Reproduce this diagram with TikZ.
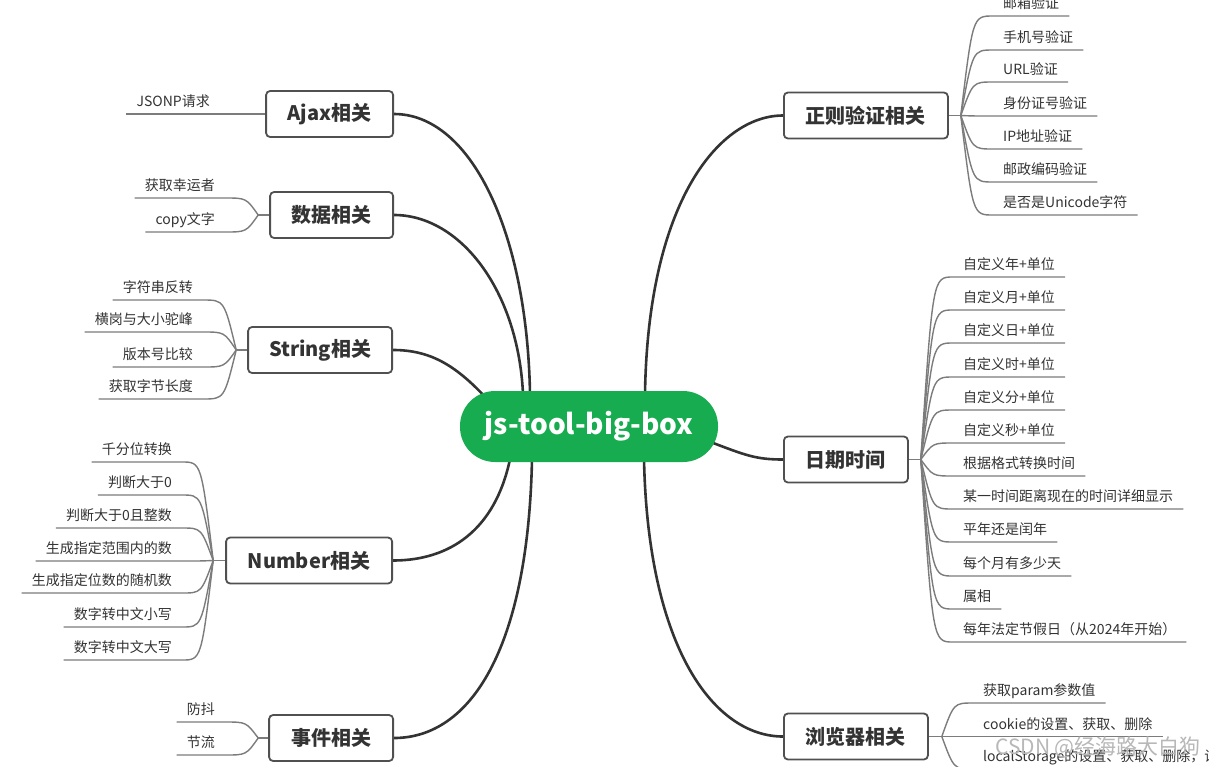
\documentclass[tikz,border=0pt]{standalone}
\usepackage{fontspec}
\setmainfont{Noto Sans CJK SC}
\usetikzlibrary{backgrounds}
\definecolor{rootgreen}{HTML}{17AC50}
\definecolor{inkdark}{HTML}{333333}
\definecolor{boxline}{HTML}{505050}
\definecolor{twiggray}{HTML}{7C7C7C}
\tikzset{
  root/.style={fill=rootgreen, text=white, rounded corners=35pt, minimum width=258pt, minimum height=71pt, inner sep=0pt, font=\fontsize{28}{32}\selectfont\bfseries},
  topic/.style={draw=boxline, line width=1.8pt, rounded corners=4pt, fill=white, text=inkdark, minimum height=46pt, inner sep=0pt, font=\fontsize{20}{24}\selectfont\bfseries},
  leaf/.style={text=inkdark, inner xsep=10pt, inner ysep=4pt, text height=10pt, text depth=3pt, font=\fontsize{14}{16}\selectfont},
  branch/.style={draw=inkdark, line width=2.6pt},
  twig/.style={draw=twiggray, line width=1.4pt},
  wm/.style={text=black!28, font=\fontsize{21}{24}\selectfont}
}

\begin{document}
\begin{tikzpicture}[x=1pt, y=-1pt]
  \useasboundingbox (0,0) rectangle (1209,766);
  % centre
  \node[root] (root) at (589,426.5) {js-tool-big-box};
  % topics, left
  \node[topic, minimum width=127pt, anchor=east] (ajax) at (394,114) {Ajax相关};
  \node[topic, minimum width=123pt, anchor=east] (data) at (394,215) {数据相关};
  \node[topic, minimum width=144pt, anchor=east] (str) at (393,350) {String相关};
  \node[topic, minimum width=166pt, anchor=east] (num) at (393,560.5) {Number相关};
  \node[topic, minimum width=124pt, anchor=east] (evt) at (394,738) {事件相关};
  % topics, right
  \node[topic, minimum width=164pt, anchor=west] (reg) at (783,115.5) {正则验证相关};
  \node[topic, minimum width=124pt, anchor=west] (date) at (783,459.5) {日期时间};
  \node[topic, minimum width=144pt, anchor=west] (web) at (783,736.5) {浏览器相关};
  % forks
  \coordinate (dataFork) at ([xshift=-11pt]data.west);
  \coordinate (strFork) at ([xshift=-11pt]str.west);
  \coordinate (numFork) at ([xshift=-12pt]num.west);
  \coordinate (evtFork) at ([xshift=-10pt]evt.west);
  \coordinate (regFork) at ([xshift=12pt]reg.east);
  \coordinate (dateFork) at ([xshift=12pt]date.east);
  \coordinate (webFork) at ([xshift=13pt]web.east);
  % where the branches leave the root
  \coordinate (ajaxIn) at ([xshift=-59pt,yshift=-3pt]root.north);
  \coordinate (dataIn) at ([xshift=-66pt,yshift=-3pt]root.north);
  \coordinate (strIn) at ([xshift=-104pt,yshift=-6pt]root.north);
  \coordinate (numIn) at ([xshift=-79pt,yshift=3pt]root.south);
  \coordinate (evtIn) at ([xshift=-57pt,yshift=3pt]root.south);
  \coordinate (regIn) at ([xshift=56pt,yshift=-3pt]root.north);
  \coordinate (dateIn) at ([xshift=-9pt,yshift=-15pt]root.east);
  \coordinate (webIn) at ([xshift=55pt,yshift=3pt]root.south);

  % leaves, left
  \node[leaf, anchor=south east] (jsonp) at (220,114) {JSONP请求};
  \draw[twig] (jsonp.south west) -- (ajax.west);
  \foreach \y/\txt [count=\i] in {198/获取幸运者, 232/copy文字} {
    \node[leaf, anchor=south east] (data\i) at (225,\y) {\txt};
    \draw[twig] (data\i.south west) -- (data\i.south east) .. controls ([xshift=-12pt]dataFork |- data\i.south east) .. (dataFork);
  }
  \draw[twig] (dataFork) -- (data.west);
  \foreach \y/\txt [count=\i] in {300/字符串反转, 332/横岗与大小驼峰, 367/版本号比较, 399/获取字节长度} {
    \node[leaf, anchor=south east] (str\i) at (203,\y) {\txt};
    \draw[twig] (str\i.south west) -- (str\i.south east) .. controls ([xshift=-12pt]strFork |- str\i.south east) .. (strFork);
  }
  \draw[twig] (strFork) -- (str.west);
  \foreach \y/\txt [count=\i] in {462/千分位转换, 495/判断大于0, 528/判断大于0且整数, 561/生成指定范围内的数,
      593/生成指定位数的随机数, 627/数字转中文小写, 660/数字转中文大写} {
    \node[leaf, anchor=south east] (num\i) at (182,\y) {\txt};
    \draw[twig] (num\i.south west) -- (num\i.south east) .. controls ([xshift=-12pt]numFork |- num\i.south east) .. (numFork);
  }
  \draw[twig] (numFork) -- (num.west);
  \foreach \y/\txt [count=\i] in {722/防抖, 755/节流} {
    \node[leaf, anchor=south east] (evt\i) at (225,\y) {\txt};
    \draw[twig] (evt\i.south west) -- (evt\i.south east) .. controls ([xshift=-12pt]evtFork |- evt\i.south east) .. (evtFork);
  }
  \draw[twig] (evtFork) -- (evt.west);

  % leaves, right
  \foreach \y/\txt [count=\i] in {16/邮箱验证, 50/手机号验证, 82/URL验证, 116/身份证号验证,
      149/IP地址验证, 182/邮政编码验证, 215/是否是Unicode字符} {
    \node[leaf, anchor=south west] (reg\i) at (993,\y) {\txt};
    \draw[twig] (reg\i.south east) -- (reg\i.south west) .. controls ([xshift=12pt]regFork |- reg\i.south west) .. (regFork);
  }
  \draw[twig] (regFork) -- (reg.east);
  \foreach \y/\txt [count=\i] in {277/自定义年+单位, 310/自定义月+单位, 343/自定义日+单位, 377/自定义时+单位,
      410/自定义分+单位, 443/自定义秒+单位, 476/根据格式转换时间, 509/某一时间距离现在的时间详细显示,
      542/平年还是闰年, 576/每个月有多少天, 609/属相, 642/每年法定节假日（从2024年开始）} {
    \node[leaf, anchor=south west] (date\i) at (953,\y) {\txt};
    \draw[twig] (date\i.south east) -- (date\i.south west) .. controls ([xshift=12pt]dateFork |- date\i.south west) .. (dateFork);
  }
  \draw[twig] (dateFork) -- (date.east);
  \foreach \y/\txt [count=\i] in {703/获取param参数值, 736.5/cookie的设置、获取、删除, 769/localStorage的设置、获取、删除，设} {
    \node[leaf, anchor=south west] (web\i) at (973,\y) {\txt};
    \draw[twig] (web\i.south east) -- (web\i.south west) .. controls ([xshift=12pt]webFork |- web\i.south west) .. (webFork);
  }
  \draw[twig] (webFork) -- (web.east);

  % main branches behind the root
  \begin{scope}[on background layer]
    \fill[white] (0,0) rectangle (1209,766);
    \draw[branch] (ajaxIn) .. controls (527,230) and (470,114) .. (ajax.east);
    \draw[branch] (dataIn) .. controls (518,290) and (460,215) .. (data.east);
    \draw[branch] (strIn) .. controls (455,365) and (430,350) .. (str.east);
    \draw[branch] (numIn) .. controls (495,530) and (450,560.5) .. (num.east);
    \draw[branch] (evtIn) .. controls (528,650) and (470,738) .. (evt.east);
    \draw[branch] (regIn) .. controls (648,200) and (720,115.5) .. (reg.east -| reg.west);
    \draw[branch] (dateIn) .. controls (745,455) and (755,459.5) .. (date.west);
    \draw[branch] (webIn) .. controls (648,650) and (715,736.5) .. (web.west);
  \end{scope}

  \node[wm] (mark) at (1098,747) {CSDN @经海路大白狗};
\end{tikzpicture}
\end{document}
